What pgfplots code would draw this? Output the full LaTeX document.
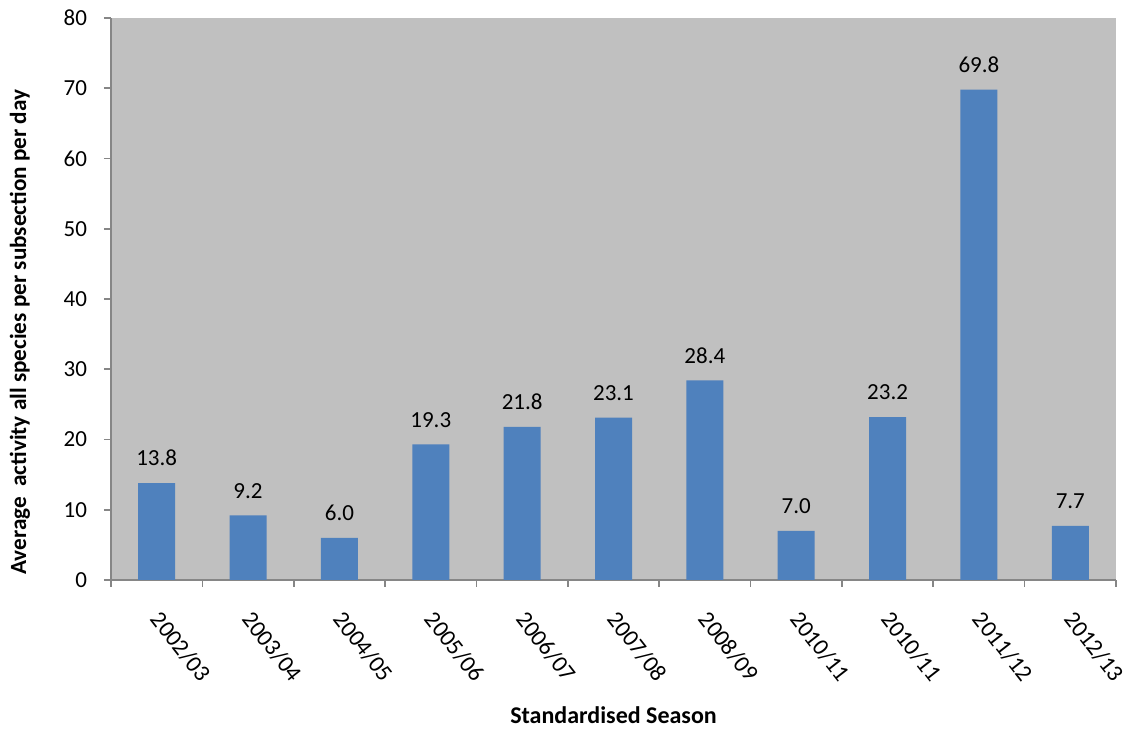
\documentclass[border=0pt]{standalone}
\usepackage{pgfplots}
\pgfplotsset{compat=1.18}
\usepackage{fontspec}
\setmainfont{Carlito}
\definecolor{barblue}{HTML}{4F81BD}
\definecolor{plotgray}{HTML}{C0C0C0}
\definecolor{axisgray}{HTML}{868686}
\begin{document}
\begin{tikzpicture}
\begin{axis}[
  scale only axis,
  width=502.5pt, height=281pt,
  xmin=-0.5, xmax=10.5,
  ymin=0, ymax=80,
  ytick={0,10,...,80},
  xtick={-0.5,0.5,...,10.5},
  x tick label as interval,
  xticklabels={2002/03,2003/04,2004/05,2005/06,2006/07,2007/08,2008/09,2010/11,2010/11,2011/12,2012/13},
  axis lines=left,
  axis line style={-, draw=axisgray, line width=0.8pt},
  major tick style={draw=axisgray, line width=0.8pt},
  tick align=outside,
  major tick length=3.5pt,
  axis background/.style={fill=plotgray},
  font=\fontsize{11.5}{13}\selectfont,
  /pgf/number format/assume math mode=true,
  yticklabel style={font=\fontsize{11.5}{13}\selectfont, xshift=-5pt},
  xticklabel style={font=\fontsize{11.8}{13}\selectfont, yshift=-11pt, xshift=3pt, rotate=-52, anchor=north west, inner sep=0pt},
  ylabel={\bfseries Average\ \ activity all species per subsection per day},
  ylabel style={font=\fontsize{11.6}{13}\selectfont, at={(axis description cs:-0.0905,0.441)}, anchor=center},
  xlabel={\bfseries Standardised Season},
  xlabel style={font=\fontsize{12}{13}\selectfont, at={(axis description cs:0.5,-0.24)}, anchor=center},
  ybar, bar width=18.5pt,
  nodes near coords,
  nodes near coords style={font=\fontsize{11.5}{13}\selectfont, /pgf/number format/.cd, fixed, fixed zerofill, precision=1, /tikz/.cd, yshift=5pt},
  clip=false,
]
\addplot[fill=barblue, draw=none] coordinates {
  (0,13.8) (1,9.2) (2,6.0) (3,19.3) (4,21.8) (5,23.1)
  (6,28.4) (7,7.0) (8,23.2) (9,69.8) (10,7.7)
};
\end{axis}
\pgfresetboundingbox
\path[use as bounding box] (-55.5pt,-75.5pt) rectangle (508.5pt,290pt);
\end{tikzpicture}
\end{document}
